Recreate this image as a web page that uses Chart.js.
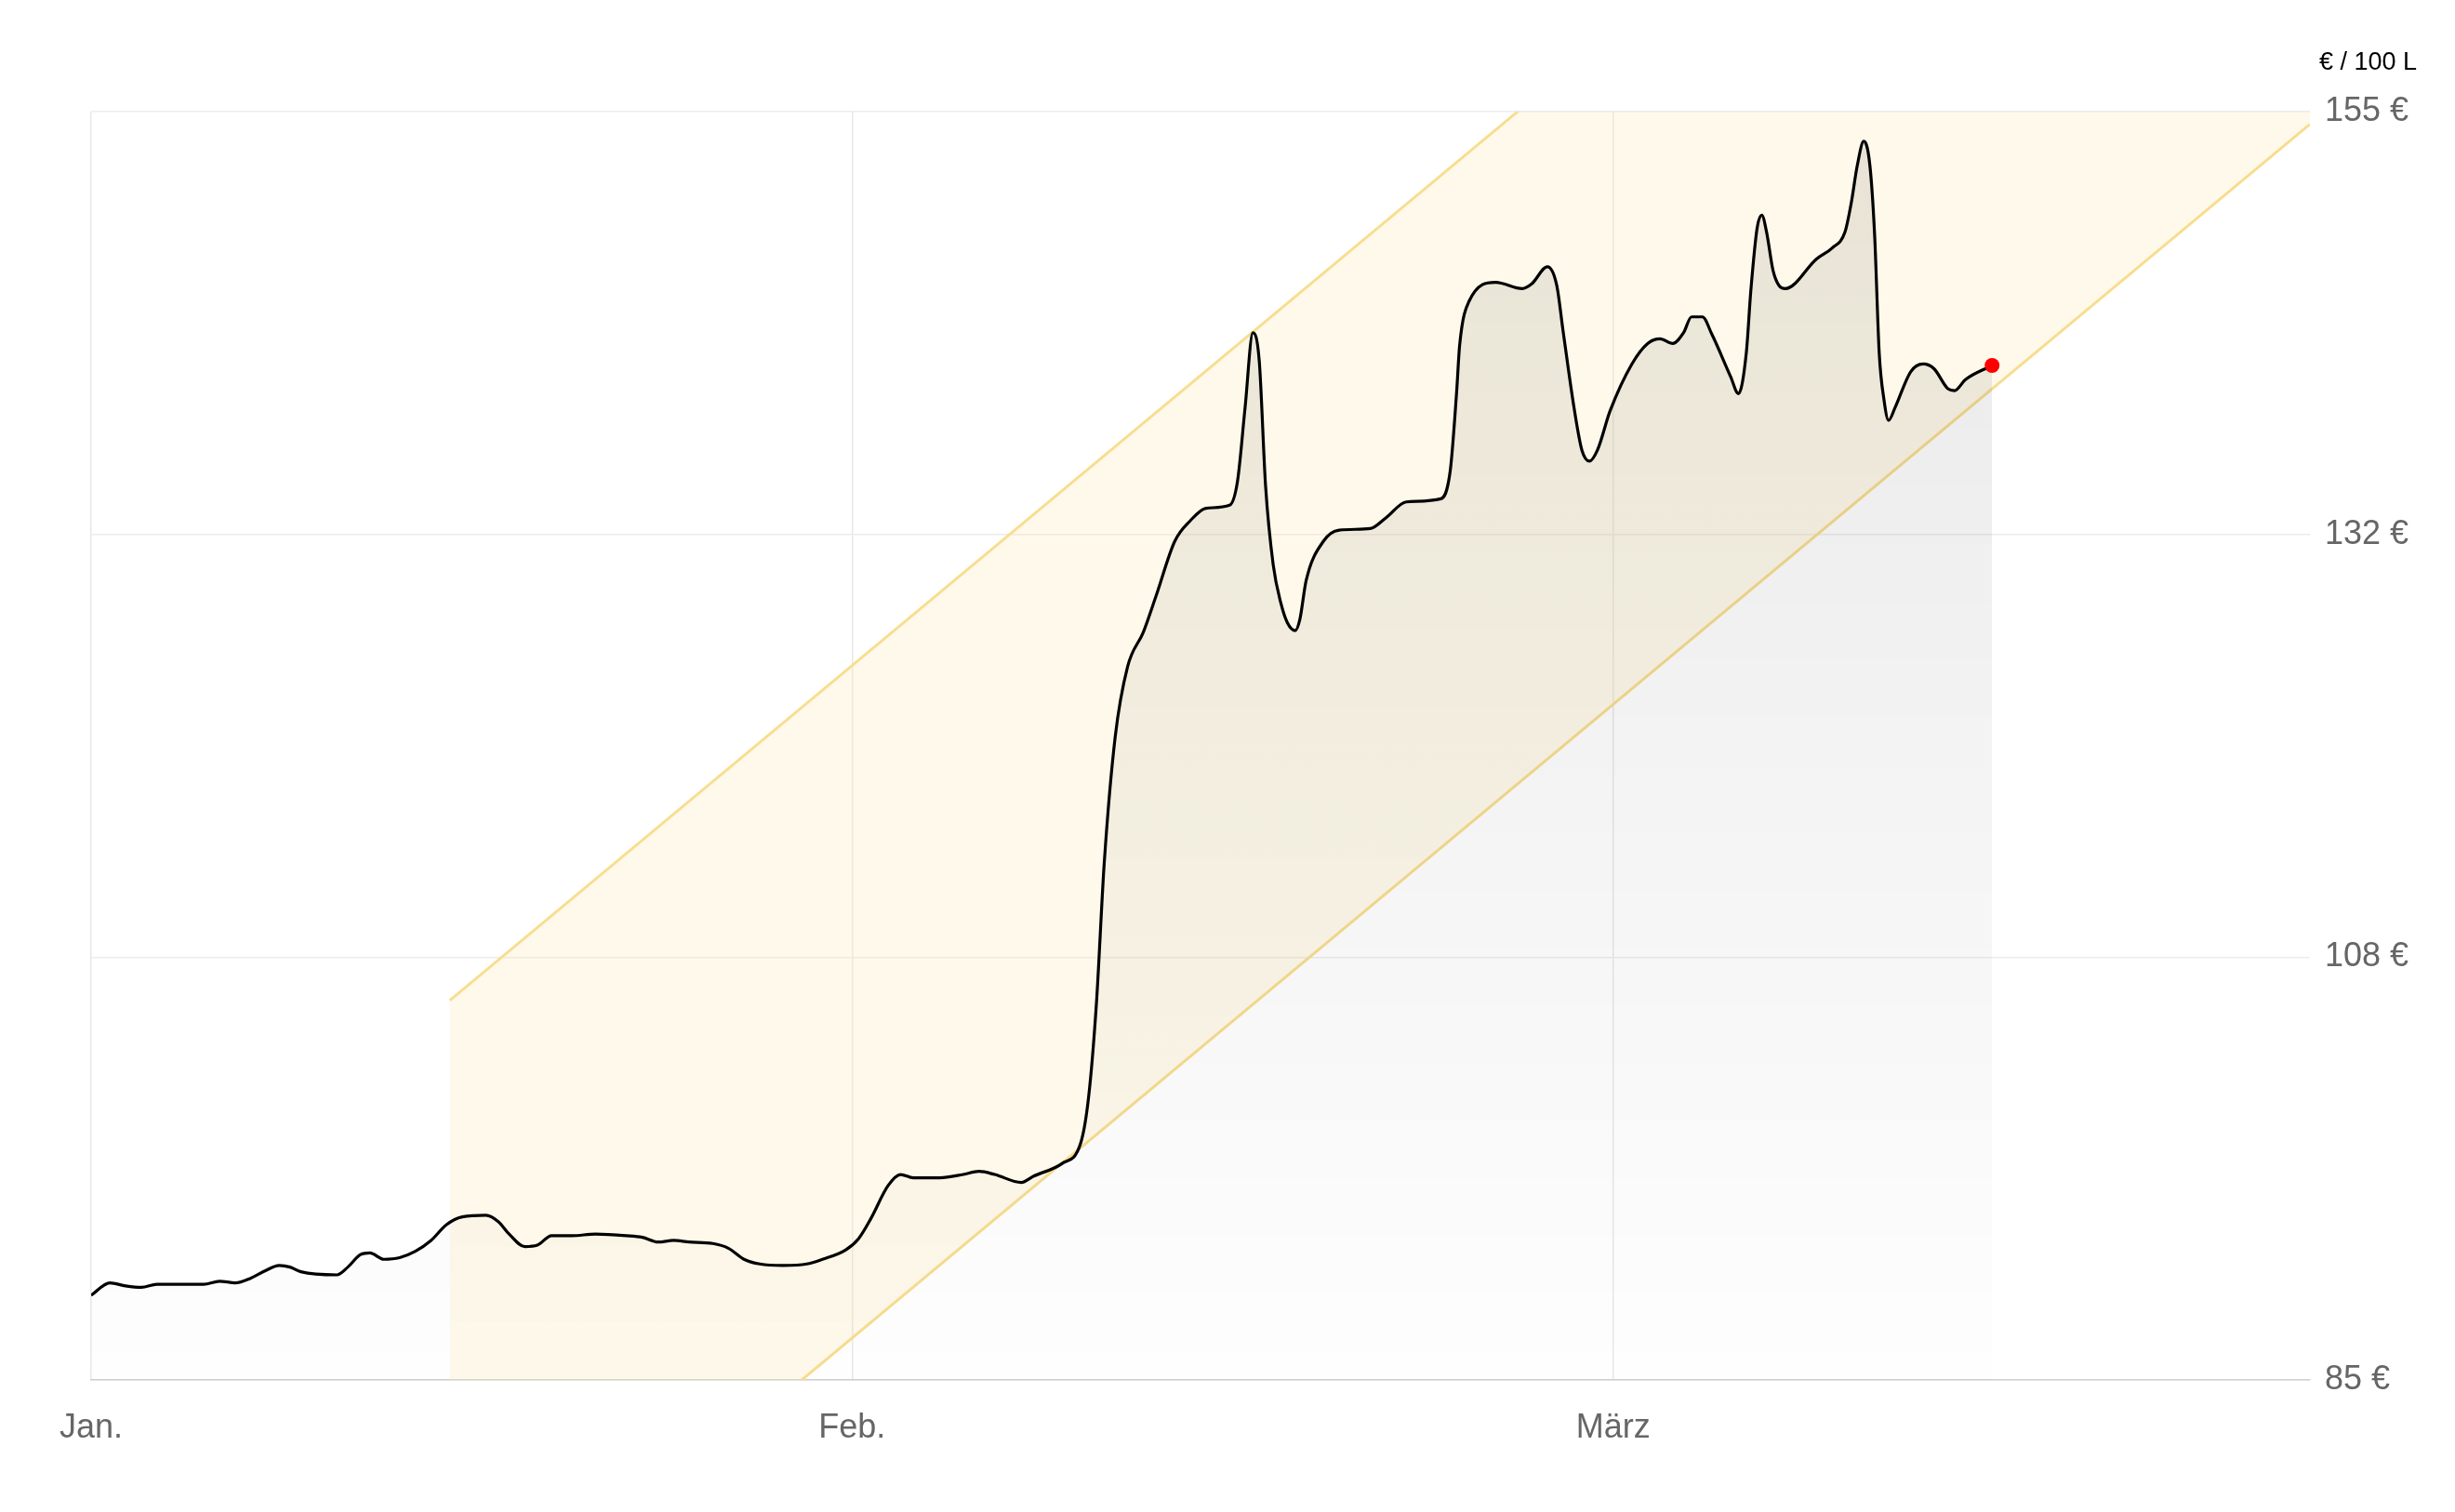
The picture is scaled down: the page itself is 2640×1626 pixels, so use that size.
<!DOCTYPE html>
<html><head><meta charset="utf-8">
<script src="https://cdn.jsdelivr.net/npm/chart.js@4/dist/chart.umd.min.js"></script>
<style>html,body{margin:0;padding:0;background:#fff}#w{width:2640px;height:1626px}</style>
</head><body><div id="w"><canvas id="c"></canvas></div>
<script>
const days=[0,0.74,1.36,1.98,2.59,4.44,5.06,5.68,6.30,6.91,7.41,7.84,8.27,9.69,10.12,10.62,10.99,11.54,12.16,12.78,13.40,14.01,14.63,15.56,16.05,16.48,17.10,17.59,18.15,18.95,19.88,21.11,21.73,22.35,22.96,23.58,24.51,25.12,25.74,26.36,27.28,28.21,28.83,29.75,30.25,30.74,31.42,31.91,32.41,33.46,34.38,35.00,35.62,36.67,37.16,38.27,39.01,39.32,39.63,39.94,40.37,40.86,41.48,41.98,42.72,43.33,43.95,44.88,45.19,45.49,45.80,46.05,46.30,46.60,46.91,47.16,47.47,47.65,47.90,48.58,49.20,50.43,51.05,51.85,53.21,53.58,53.83,53.95,54.32,55.37,56.42,56.79,57.41,57.78,58.02,58.46,58.77,59.07,59.38,59.88,60.74,61.36,61.85,62.35,62.78,63.09,63.52,63.89,64.63,64.94,65.25,65.43,65.68,65.86,66.05,66.30,66.54,66.79,68.02,68.64,69.14,69.38,69.63,69.88,70.12,70.31,70.49,70.68,70.86,71.11,71.73,72.22,72.65,73.21,73.46,73.89,74.94];
const prices=[89.67,90.36,90.19,90.11,90.28,90.28,90.45,90.36,90.62,91.06,91.32,91.23,90.97,90.80,91.23,91.92,92.01,91.66,91.75,92.10,92.70,93.57,94.00,94.09,93.74,93.05,92.36,92.44,92.96,92.96,93.05,92.96,92.87,92.61,92.70,92.61,92.53,92.27,91.66,91.40,91.32,91.40,91.66,92.18,92.79,93.91,95.73,96.34,96.16,96.16,96.34,96.51,96.34,95.90,96.25,96.94,98.07,100.58,105.77,113.55,120.48,124.37,126.27,128.26,131.29,132.42,133.11,133.28,134.58,138.65,142.80,141.24,134.32,129.99,127.83,126.79,126.36,126.97,129.13,131.29,131.90,131.99,132.59,133.46,133.63,135.19,139.51,142.11,144.53,145.58,145.23,145.49,146.44,145.40,142.97,138.65,136.31,135.71,136.31,138.48,141.07,142.20,142.46,142.20,142.80,143.67,143.67,142.72,140.38,139.43,141.68,145.14,148.60,149.29,148.35,146.26,145.40,145.23,146.87,147.48,148.35,149.90,152.06,153.36,152.06,148.17,141.68,139.08,137.96,138.65,140.64,141.07,140.81,139.69,139.60,140.21,140.99];
const channelDays=[14.14,87.47];
const channelUpper=[105.94,191.4];
const channelLower=[68.83,154.3];
const monthTicks=[0,30,60];
const monthLabels=['Jan.','Feb.','März'];
const yTicks=[85,108.33,131.67,155];
const unitLabel='€ / 100 L';

const pts=days.map((d,i)=>({x:d,y:prices[i]}));
const up=channelDays.map((d,i)=>({x:d,y:channelUpper[i]}));
const lo=channelDays.map((d,i)=>({x:d,y:channelLower[i]}));
const font='"Liberation Sans", Arial, sans-serif';

const unitPlugin={id:'unit',afterDraw(c){const g=c.ctx;g.save();g.font='27px '+font;g.fillStyle='#000';g.textAlign='right';g.textBaseline='middle';g.fillText(unitLabel,2599,68);g.restore();}};

new Chart(document.getElementById('c'),{
 type:'line',
 data:{datasets:[
  {data:up,borderColor:'#f8dd8e',borderWidth:3,pointRadius:0,fill:false,order:3},
  {data:lo,borderColor:'#f8dd8e',borderWidth:3,pointRadius:0,fill:'-1',backgroundColor:'rgba(250,233,170,0.25)',order:2},
  {data:pts,borderColor:'#000',borderWidth:3.2,cubicInterpolationMode:'monotone',pointRadius:pts.map((p,i)=>i===pts.length-1?8:0),pointBackgroundColor:'#ff0000',pointBorderWidth:0,
   fill:'start',order:1,
   backgroundColor(ctx){const a=ctx.chart.chartArea;if(!a)return 'rgba(0,0,0,0.05)';const gr=ctx.chart.ctx.createLinearGradient(0,a.top,0,a.bottom);gr.addColorStop(0,'rgba(0,0,0,0.09)');gr.addColorStop(1,'rgba(0,0,0,0.005)');return gr;}}
 ]},
 options:{responsive:true,maintainAspectRatio:false,animation:false,
  layout:{padding:{left:98,top:120,right:0,bottom:0}},
  plugins:{legend:{display:false},tooltip:{enabled:false}},
  scales:{
   x:{type:'linear',min:0,max:87.47,
     afterBuildTicks(s){s.ticks=monthTicks.map(v=>({value:v}));},
     afterFit(s){s.height=142;},
     ticks:{callback:(v)=>monthLabels[monthTicks.indexOf(v)],font:{size:36,family:font},color:'#666',padding:30,maxRotation:0},
     grid:{color:'#e8e8e8',lineWidth:1.5,drawTicks:false},border:{color:'#d0d0d0',width:1.5}},
   y:{position:'right',min:85,max:155,
     afterBuildTicks(s){s.ticks=yTicks.map(v=>({value:v}));},
     afterFit(s){s.width=156;},
     ticks:{callback:(v)=>Math.round(v)+' €',font:{size:36,family:font},color:'#666',padding:16},
     grid:{color:'#ececec',lineWidth:1.5,drawTicks:false},border:{display:false}}
  }},
 plugins:[unitPlugin]
});
</script></body></html>
